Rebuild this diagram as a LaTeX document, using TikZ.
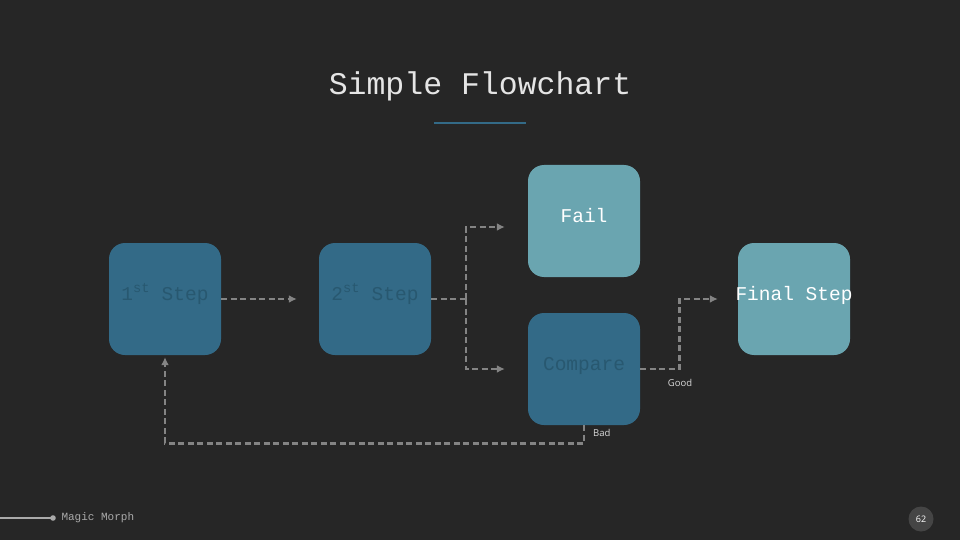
\documentclass[tikz,border=0pt]{standalone}
\usepackage{fontspec}
\setmonofont{Liberation Mono}
\newfontfamily\tagfont{Open Sans}
\usepackage{xcolor}
\usetikzlibrary{positioning, arrows.meta}

\definecolor{bgdark}{RGB}{38,38,38}
\definecolor{stepblue}{RGB}{51,106,135}
\definecolor{steptext}{RGB}{40,88,112}
\definecolor{boxteal}{RGB}{106,165,176}
\definecolor{linkgray}{RGB}{132,132,132}
\definecolor{footgray}{RGB}{170,170,170}

\tikzset{
    stepbox/.style={rounded corners=16pt, minimum width=112pt, minimum height=112pt,
        inner sep=0pt, text height=11pt, text depth=9pt,
        font=\ttfamily\fontsize{19.5}{20}\selectfont},
    darkbox/.style={stepbox, fill=stepblue, text=steptext},
    lightbox/.style={stepbox, fill=boxteal, text=white},
    link/.style={draw=linkgray, line width=2.8pt, dash pattern=on 6pt off 3.5pt},
    tag/.style={font=\tagfont\fontsize{9.5}{11}\selectfont, text=white!85!black, inner sep=1pt}
}

\begin{document}
\begin{tikzpicture}[x=1pt, y=-1pt, >={Latex[length=8pt,width=8pt]}]
    % Nền
    \fill[bgdark] (0,0) rectangle (960,540);
    \useasboundingbox (0,0) rectangle (960,540);

    % Tiêu đề
    \node[font=\ttfamily\fontsize{31.5}{34}\selectfont, text=white!90!black] (title) at (480,86) {Simple Flowchart};
    \draw[stepblue, line width=1.2pt] (434,123) -- (526,123);

    % Các khối
    \node[darkbox] (step1) at (165,299) {1\textsuperscript{st} Step};
    \node[darkbox] (step2) at (375,299) {2\textsuperscript{st} Step};
    \node[lightbox] (fail) at (584,221) {Fail};
    \node[darkbox] (compare) at (584,369) {Compare};
    \node[lightbox] (final) at (794,299) {\makebox[0pt]{Final Step}};

    % Các mũi tên
    \coordinate (split) at (466,299);
    \draw[link, ->] (step1.east) -- ([xshift=-22pt]step2.west);
    \draw[link] (step2.east) -- (split);
    \draw[link, ->] (split) |- ([xshift=-23pt, yshift=-6pt]fail.west);
    \draw[link, ->] (split) |- ([xshift=-23pt]compare.west);
    \draw[link, ->] (compare.east) -- ++(39,0) |- ([xshift=-20pt]final.west);
    \draw[link, ->] (compare.south) -- ++(0,18) -| ([yshift=-2pt]step1.south);
    \node[tag] (good) at (680,383) {Good};
    \node[tag, anchor=west] (bad) at (592,433) {Bad};

    % Chân trang
    \draw[footgray, line width=1.8pt] (0,518) -- (53,518);
    \fill[footgray] (53,518) circle (2.8);
    \node[anchor=west, font=\ttfamily\fontsize{11}{12}\selectfont, text=footgray] (brand) at (58,518) {Magic Morph};
    \node[circle, fill=white!27!black, minimum size=25pt, inner sep=0pt,
        font=\tagfont\fontsize{9}{10}\selectfont, text=white] (page) at (921,519) {62};
\end{tikzpicture}
\end{document}
